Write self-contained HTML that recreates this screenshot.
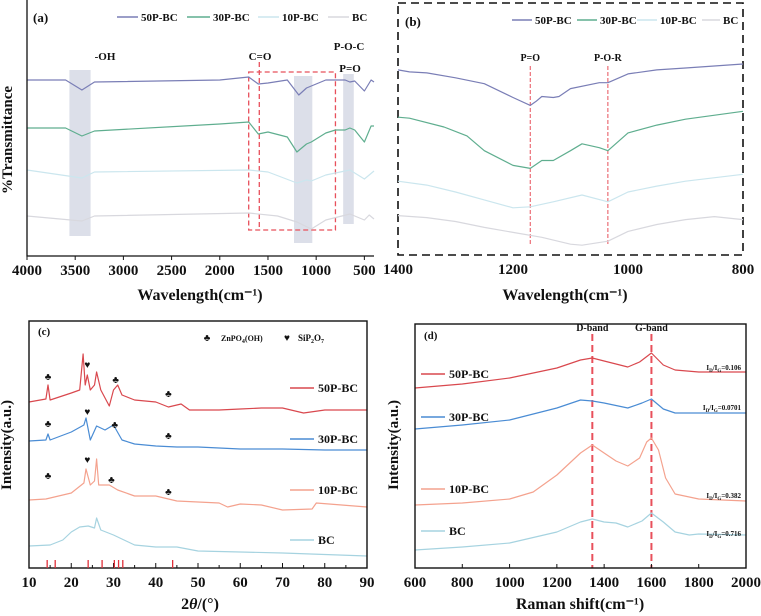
<!DOCTYPE html>
<html><head><meta charset="utf-8"><style>
body{margin:0;background:#fff}
svg{display:block}
text{font-family:"Liberation Serif",serif;font-weight:bold;fill:#111}
</style></head><body>
<svg id="fig" width="761" height="616" viewBox="0 0 761 616" xmlns="http://www.w3.org/2000/svg">
<g id="pa"></g>
<g id="pb"></g>
<g id="pc"></g>
<g id="pd"></g>
</svg>
<script>
// ---------- Panel (a) data: [wavenumber, transmittance(a.u.)] ----------
const a50 = [[4000,176],[3600,176],[3430,166],[3300,174],[2000,176],[1700,179],[1600,172],[1500,173],[1300,176],[1180,161],[1100,168],[1050,170],[900,176],[700,176],[650,174],[600,175],[500,165],[430,176],[400,174]];
const a30 = [[4000,128],[3600,128],[3430,120],[3300,125],[2000,132],[1700,134],[1600,122],[1500,124],[1300,119],[1200,104],[1100,112],[1050,114],[900,123],[800,126],[700,126],[650,128],[600,126],[500,114],[430,130],[400,130]];
const a10 = [[4000,86],[3430,78],[3300,84],[1700,86],[1500,84],[1200,73],[1100,76],[1050,75],[900,81],[650,86],[500,77],[400,85]];
const aBC = [[4000,40],[3430,35],[3300,40],[1700,43],[1400,40],[1200,34],[1050,27],[900,36],[650,42],[500,36],[450,41],[400,37]];
const aTicks = [4000,3500,3000,2500,2000,1500,1000,500];
// ---------- Panel (b) data ----------
const b50 = [[1400,188],[1380,186],[1350,185],[1300,180],[1250,174],[1200,160],[1170,152],[1160,156],[1150,161],[1130,160],[1120,161],[1100,169],[1050,175],[1035,175],[1000,184],[950,188],[900,190],[800,194]];
const b30 = [[1400,140],[1380,139],[1320,130],[1280,121],[1250,106],[1200,91],[1170,88],[1150,96],[1130,96],[1100,106],[1080,113],[1050,109],[1035,106],[1000,124],[950,132],[900,138],[800,146]];
const b10 = [[1400,75],[1350,71],[1300,64],[1250,56],[1200,48],[1170,49],[1130,54],[1080,61],[1035,54],[1000,64],[950,70],[900,75],[800,82]];
const bBC = [[1400,40],[1350,38],[1300,34],[1250,28],[1200,23],[1150,18],[1100,11],[1080,10],[1035,14],[1000,24],[950,31],[900,36],[850,39],[800,36]];
const bTicks = [1400,1200,1000,800];
// ---------- Panel (c) data: [2theta, intensity] ----------
const c50 = [[10,166],[14,169],[14.5,183],[15,168],[20,175],[22,178],[22.8,214],[23.3,183],[23.8,193],[24.5,178],[25.5,183],[26,196],[27,178],[29,162],[30,178],[31,183],[32,173],[35,168],[40,166],[43,161],[46,164],[48,158],[55,158],[60,159],[65,160],[70,160],[75,155],[80,158],[90,158]];
const c30 = [[10,127],[14,128],[14.5,134],[15,128],[20,136],[23,143],[23.5,150],[24.5,128],[26,142],[28,138],[30,143],[32,128],[35,124],[40,122],[45,121],[50,121],[60,119],[70,119],[80,118],[90,118]];
const c10 = [[10,68],[14,69],[20,75],[23,85],[23.5,99],[24.5,83],[25.5,87],[26,109],[26.5,83],[29,83],[31,78],[35,72],[40,72],[45,67],[55,65],[57,61],[60,64],[65,63],[70,58],[77,59],[78,65],[90,61]];
const cBC = [[10,22],[15,23],[18,28],[20,36],[22,41],[24,42],[25.5,40],[26,50],[27,38],[30,33],[35,23],[40,21],[45,21],[50,17],[60,16],[70,15],[90,12]];
const cTicks = [10,20,30,40,50,60,70,80,90];
const cRef = [14.3,16.2,24,27.3,30.2,31.2,32.2,44];
const cClub = [[14.5,188],[30.5,185],[43,171],[14.5,141],[30.3,140],[43,129],[14.5,89],[29.5,85],[43,73]];
const cHeart = [[23.8,200],[23.8,153],[23.8,105]];
// ---------- Panel (d) data: [Raman shift, intensity] ----------
const d50 = [[600,180],[800,184],[1000,190],[1200,200],[1300,208],[1350,210],[1400,207],[1450,204],[1500,201],[1550,206],[1600,215],[1650,203],[1700,198],[1800,196],[2000,196]];
const d30 = [[600,139],[800,143],[1000,148],[1200,160],[1300,168],[1350,167],[1400,165],[1500,160],[1560,165],[1600,169],[1650,159],[1700,155],[2000,155]];
const d10 = [[600,63],[800,65],[1000,69],[1100,76],[1200,93],[1300,115],[1350,123],[1400,115],[1450,107],[1500,102],[1550,110],[1580,126],[1600,130],[1630,118],[1660,90],[1700,74],[1800,69],[2000,67]];
const dBC = [[600,18],[800,21],[1000,25],[1200,36],[1300,46],[1350,49],[1400,46],[1450,45],[1500,41],[1560,47],[1600,55],[1650,46],[1700,36],[1760,33],[1800,34],[2000,33]];
const dTicks = [600,800,1000,1200,1400,1600,1800,2000];
const dRatios = ["0.106","0.0701","0.382","0.716"];

const NS="http://www.w3.org/2000/svg";
function mk(parent,tag,attrs,txt){const e=document.createElementNS(NS,tag);for(const k in attrs)e.setAttribute(k,attrs[k]);if(txt!==undefined)e.textContent=txt;parent.appendChild(e);return e;}
function lin(d0,d1,r0,r1){return v=>r0+(v-d0)/(d1-d0)*(r1-r0);}
function path(g,data,xs,ys,color,w,name){
  const d=data.map((p,i)=>(i?'L':'M')+xs(p[0]).toFixed(1)+','+ys(p[1]).toFixed(1)).join('');
  const e=mk(g,'path',{d:d,fill:'none',stroke:color,'stroke-width':w,'stroke-linejoin':'round'});
  
  
  return e;
}
function txt(g,x,y,s,size,anchor,name){
  const e=mk(g,'text',{x:x,y:y,'font-size':size,'text-anchor':anchor||'middle'},s);
  
  
  return e;
}
function legendLine(g,x1,x2,y,color,name){
  const e=mk(g,'line',{x1:x1,x2:x2,y1:y,y2:y,stroke:color,'stroke-width':1.5});
  
  
}
const C50='#7a7eb6',C30='#5fae8f',C10='#cbe6ee',CBC='#d8d8de';
const X50='#d9484e',X30='#4a8cd4',X10='#f4a28e',XBC='#a6d3e0';

// ========== Panel (a) ==========
(function(){
 const g=document.getElementById('pa');
 const L=27,R=374,T=0,B=256;
 const xs=lin(4000,400,L,R), ys=lin(0,256,B,T);
 [[3560,3340,70,236],[1230,1040,76,243],[720,610,74,224]].forEach((b,i)=>{
  const e=mk(g,'rect',{x:xs(b[0]),y:b[2],width:xs(b[1])-xs(b[0]),height:b[3]-b[2],fill:'#dcdfe9'});
  
  
 });
 const rr=mk(g,'rect',{x:xs(1700),y:72,width:xs(800)-xs(1700),height:158,fill:'none',stroke:'#e8505b','stroke-width':1.3,'stroke-dasharray':'5,3'});
 
 
 const vl=mk(g,'line',{x1:xs(1590),x2:xs(1590),y1:62,y2:230,stroke:'#e8505b','stroke-width':1.3,'stroke-dasharray':'5,3'});
 
 
 path(g,aBC,xs,ys,CBC,1.2,'series-bc');
 path(g,a10,xs,ys,C10,1.2,'series-10p-bc');
 path(g,a30,xs,ys,C30,1.2,'series-30p-bc');
 path(g,a50,xs,ys,C50,1.2,'series-50p-bc');
 const ax=mk(g,'path',{d:`M${L},${T}V${B}H${R}`,fill:'none',stroke:'#111','stroke-width':1.3});
 
 
 aTicks.forEach(t=>{mk(g,'line',{x1:xs(t),x2:xs(t),y1:B,y2:B+4,stroke:'#111'});txt(g,xs(t),B+19,t,15,'middle','x-tick-label');});
 txt(g,33,22,'(a)',13,'start','panel-label-a');
 txt(g,105,60,'-OH',11,'middle','label-oh');
 txt(g,260,60,'C=O',11,'middle','label-c-o');
 txt(g,349,50,'P-O-C',11,'middle','label-p-o-c');
 txt(g,350,72,'P=O',11,'middle','label-p-o');
 [[117,138,'50P-BC',C50],[187,210,'30P-BC',C30],[258,279,'10P-BC',C10],[328,349,'BC',CBC]].forEach(l=>{legendLine(g,l[0],l[1],17,l[3],'legend-line');txt(g,l[1]+3,21,l[2],11,'start','legend-entry');});
 const yl=txt(g,0,0,'%Transmittance',15,'middle','y-axis-title');yl.setAttribute('transform','translate(12,140) rotate(-90)');
 txt(g,200,300,'Wavelength(cm\u207B\u00B9)',16,'middle','x-axis-title');
})();

// ========== Panel (b) ==========
(function(){
 const g=document.getElementById('pb');
 const L=398,R=743,T=3,B=255;
 const xs=lin(1400,800,L,R), ys=lin(0,256,B,T);
 const fr=mk(g,'rect',{x:L,y:T,width:R-L,height:B-T,fill:'none',stroke:'#111','stroke-width':1.6,'stroke-dasharray':'8,5'});
 
 
 [[1170,'P=O'],[1035,'P-O-R']].forEach(m=>{
  const e=mk(g,'line',{x1:xs(m[0]),x2:xs(m[0]),y1:66,y2:245,stroke:'#e8505b','stroke-width':1,'stroke-dasharray':'4,2'});
  
  
  txt(g,xs(m[0]),61,m[1],10,'middle','peak-label');
 });
 path(g,bBC,xs,ys,CBC,1.2,'series-bc');
 path(g,b10,xs,ys,C10,1.2,'series-10p-bc');
 path(g,b30,xs,ys,C30,1.2,'series-30p-bc');
 path(g,b50,xs,ys,C50,1.2,'series-50p-bc');
 bTicks.forEach(t=>txt(g,xs(t),B+19,t,15,'middle','x-tick-label'));
 txt(g,405,26,'(b)',13,'start','panel-label-b');
 [[512,532,'50P-BC',C50],[577,597,'30P-BC',C30],[637,657,'10P-BC',C10],[702,720,'BC',CBC]].forEach(l=>{legendLine(g,l[0],l[1],20,l[3],'legend-line');txt(g,l[1]+3,24,l[2],11,'start','legend-entry');});
 txt(g,565,300,'Wavelength(cm\u207B\u00B9)',16,'middle','x-axis-title');
})();

// ========== Panel (c) ==========
(function(){
 const g=document.getElementById('pc');
 const L=29,R=367,T=321,B=568;
 const xs=lin(10,90,L,R), ys=lin(0,247,B,T);
 path(g,cBC,xs,ys,XBC,1.2,'series-bc');
 path(g,c10,xs,ys,X10,1.2,'series-10p-bc');
 path(g,c30,xs,ys,X30,1.2,'series-30p-bc');
 path(g,c50,xs,ys,X50,1.2,'series-50p-bc');
 const fr=mk(g,'rect',{x:L,y:T,width:R-L,height:B-T,fill:'none',stroke:'#111','stroke-width':1.4});
 
 
 for(let t=10;t<=90;t+=5){mk(g,'line',{x1:xs(t),x2:xs(t),y1:B,y2:B-(t%10?3:5),stroke:'#111'});}
 cTicks.forEach(t=>txt(g,xs(t),B+19,t,15,'middle','x-tick-label'));
 cRef.forEach(v=>{const e=mk(g,'line',{x1:xs(v),x2:xs(v),y1:B-8,y2:B,stroke:'#e0303a','stroke-width':1.3});
  
  });
 cClub.forEach(p=>txt(g,xs(p[0]),ys(p[1]),'\u2663',10,'middle','znpo4-marker'));
 cHeart.forEach(p=>txt(g,xs(p[0]),ys(p[1]),'\u2665',10,'middle','sip2o7-marker'));
 txt(g,38,335,'(c)',11,'start','panel-label-c');
 txt(g,207,341,'\u2663',10,'middle','legend-club');
 const t1=txt(g,221,341,'',8,'start','legend-znpo4');t1.innerHTML='ZnPO<tspan font-size="6" dy="2">4</tspan><tspan dy="-2">(OH)</tspan>';
 txt(g,287,341,'\u2665',10,'middle','legend-heart');
 const t2=txt(g,298,341,'',9,'start','legend-sip2o7');t2.innerHTML='SiP<tspan font-size="6" dy="2">2</tspan><tspan dy="-2">O</tspan><tspan font-size="6" dy="2">7</tspan>';
 [[388,'50P-BC',X50],[439,'30P-BC',X30],[490,'10P-BC',X10],[540,'BC',XBC]].forEach(l=>{legendLine(g,290,314,l[0],l[2],'legend-line');txt(g,318,l[0]+4,l[1],12,'start','legend-entry');});
 const yl=txt(g,0,0,'Intensity(a.u.)',15,'middle','y-axis-title');yl.setAttribute('transform','translate(11,445) rotate(-90)');
 const xt=txt(g,200,609,'',16,'middle','x-axis-title');xt.innerHTML='2<tspan font-style="italic">\u03B8</tspan>/(\u00B0)';
})();

// ========== Panel (d) ==========
(function(){
 const g=document.getElementById('pd');
 const L=415,R=746,T=324,B=568;
 const xs=lin(600,2000,L,R), ys=lin(0,244,B,T);
 [[1350,'D-band'],[1600,'G-band']].forEach(m=>{
  const e=mk(g,'line',{x1:xs(m[0]),x2:xs(m[0]),y1:334,y2:B,stroke:'#e8505b','stroke-width':2,'stroke-dasharray':'7,4'});
  
  
  txt(g,xs(m[0]),331,m[1],10,'middle','band-label');
 });
 path(g,dBC,xs,ys,XBC,1.2,'series-bc');
 path(g,d10,xs,ys,X10,1.2,'series-10p-bc');
 path(g,d30,xs,ys,X30,1.2,'series-30p-bc');
 path(g,d50,xs,ys,X50,1.2,'series-50p-bc');
 const fr=mk(g,'rect',{x:L,y:T,width:R-L,height:B-T,fill:'none',stroke:'#111','stroke-width':1.4});
 
 
 dTicks.forEach(t=>{mk(g,'line',{x1:xs(t),x2:xs(t),y1:B,y2:B-4,stroke:'#111'});txt(g,xs(t),B+19,t,15,'middle','x-tick-label');});
 txt(g,424,339,'(d)',11,'start','panel-label-d');
 [[374,'50P-BC',X50],[417,'30P-BC',X30],[489,'10P-BC',X10],[531,'BC',XBC]].forEach(l=>{legendLine(g,421,445,l[0],l[2],'legend-line');txt(g,449,l[0]+4,l[1],12,'start','legend-entry');});
 [370,410,498,536].forEach((y,i)=>{const e=txt(g,741,y,'',7,'end','ratio-label');e.innerHTML='I<tspan font-size="5" dy="2">D</tspan><tspan dy="-2">/I</tspan><tspan font-size="5" dy="2">G</tspan><tspan dy="-2">='+dRatios[i]+'</tspan>';});
 const yl=txt(g,0,0,'Intensity(a.u.)',15,'middle','y-axis-title');yl.setAttribute('transform','translate(398,445) rotate(-90)');
 txt(g,580,609,'Raman shift(cm\u207B\u00B9)',16,'middle','x-axis-title');
})();
</script>
</body></html>
